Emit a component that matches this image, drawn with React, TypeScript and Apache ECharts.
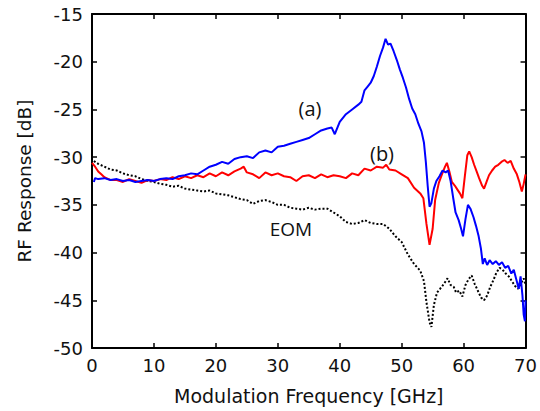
import React, { useEffect, useRef } from "react";
import * as echarts from "echarts";

const xTicks = { min: 0, max: 70, interval: 10 };
const yTicks = { min: -50, max: -15, interval: 5 };

const blueF = [0.3, 0.5, 1, 2, 3, 4, 5, 6, 7, 8, 9, 10, 11, 12, 13, 14, 15, 16, 17, 18, 19, 20, 21, 22, 23, 24, 25, 26, 27, 28, 29, 30, 31, 32, 33, 34, 35, 36, 37, 38, 38.7, 39.2, 40, 41, 42, 43, 43.5, 44, 44.5, 45, 45.5, 46, 46.5, 47, 47.4, 47.8, 48.2, 48.7, 49.2, 49.7, 50.2, 50.7, 51.2, 51.7, 52.2, 52.7, 53.2, 53.6, 53.9, 54.2, 54.5, 54.8, 55.2, 55.6, 56.1, 56.6, 57.1, 57.5, 57.9, 58.3, 58.7, 59.2, 59.6, 59.9, 60.3, 60.7, 61.1, 61.6, 62.0, 62.4, 62.8, 63.1, 63.4, 63.8, 64.2, 64.7, 65.2, 65.7, 66.2, 66.7, 67.2, 67.7, 68.1, 68.5, 68.9, 69.2, 69.5, 69.7, 69.9, 70];
const blueV = [-32.6, -32.2, -32.3, -32.2, -32.4, -32.3, -32.5, -32.4, -32.6, -32.5, -32.4, -32.5, -32.3, -32.2, -32.3, -32.0, -31.9, -31.7, -31.8, -31.4, -31.0, -30.8, -30.5, -30.7, -30.2, -30.0, -29.9, -30.1, -29.5, -29.3, -29.5, -28.9, -28.8, -28.6, -28.4, -28.2, -28.0, -27.6, -27.2, -27.0, -26.9, -27.6, -26.3, -25.5, -25.0, -24.5, -24.2, -23.0, -22.6, -22.2, -21.5, -20.5, -19.4, -18.5, -17.6, -18.2, -18.1, -18.9, -19.8, -20.8, -21.7, -22.7, -23.9, -24.9, -25.5, -26.5, -27.3, -28.5, -30.5, -33.0, -35.2, -34.8, -33.3, -32.5, -32.0, -31.4, -31.6, -31.4, -32.5, -34.2, -35.8, -36.6, -37.5, -38.3, -36.5, -35.0, -35.4, -36.3, -37.2, -38.2, -39.6, -41.2, -40.6, -41.3, -40.8, -41.2, -40.9, -41.3, -41.0, -41.6, -41.4, -42.2, -41.8, -42.8, -43.8, -42.5, -44.5, -46.5, -47.2, -45.0];

const redF = [0, 0.5, 1, 1.5, 2, 3, 4, 5, 6, 7, 8, 9, 10, 11, 12, 13, 14, 15, 16, 17, 18, 19, 20, 21, 22, 23, 24, 24.5, 25, 26, 27, 28, 29, 30, 31, 32, 33, 34, 35, 36, 37, 38, 39, 40, 41, 42, 43, 44, 45, 46, 47, 47.5, 48, 49, 50, 51, 52, 53, 53.5, 54, 54.5, 55, 55.4, 56, 56.5, 57, 57.3, 57.7, 58.1, 58.6, 59, 59.4, 59.8, 60.2, 60.6, 60.9, 61.3, 61.7, 62.1, 62.5, 63, 63.3, 63.7, 64.1, 64.6, 65.1, 65.6, 66.1, 66.6, 67.1, 67.6, 68.1, 68.6, 69, 69.4, 69.7, 70];
const redV = [-30.6, -31.0, -31.5, -31.8, -32.1, -32.4, -32.4, -32.6, -32.3, -32.5, -32.7, -32.4, -32.5, -32.3, -32.4, -32.1, -32.3, -32.0, -32.2, -31.9, -32.1, -31.7, -32.0, -31.6, -31.9, -31.5, -31.2, -31.0, -31.6, -31.8, -32.2, -31.6, -31.9, -31.7, -32.0, -32.1, -32.5, -32.0, -31.9, -32.2, -31.8, -32.1, -31.9, -32.0, -32.2, -31.7, -31.9, -31.2, -31.4, -31.0, -31.1, -30.8, -31.3, -31.4, -31.8, -32.2, -33.2, -33.8, -34.3, -37.0, -39.2, -37.5, -34.5, -32.7, -31.8, -31.0, -30.6, -31.5, -32.6, -33.0, -33.4, -33.8, -34.3, -32.0, -29.8, -29.4, -30.0, -30.8, -31.5, -32.2, -33.0, -33.3, -32.6, -31.9, -31.4, -31.0, -30.8, -30.5, -30.3, -30.6, -30.4, -31.2, -31.8, -32.6, -33.6, -32.8, -31.8];

const eomF = [0.3, 1, 2, 3, 4, 5, 6, 7, 8, 9, 10, 11, 12, 13, 14, 15, 16, 17, 18, 19, 20, 21, 22, 23, 24, 25, 26, 27, 28, 29, 30, 31, 32, 33, 34, 35, 36, 37, 38, 39, 40, 41, 42, 43, 44, 45, 46, 47, 48, 49, 50, 51, 52, 53, 53.6, 54, 54.5, 54.8, 55.2, 55.7, 56.2, 56.8, 57.4, 57.9, 58.4, 58.8, 59.3, 59.8, 60.3, 60.8, 61.3, 61.8, 62.3, 62.8, 63.3, 63.8, 64.3, 64.8, 65.3, 65.8, 66.3, 66.8, 67.3, 67.8, 68.3, 68.8, 69.3, 69.7, 70];
const eomV = [-30.4, -30.7, -31.0, -31.3, -31.4, -31.7, -31.9, -32.0, -32.3, -32.5, -32.6, -32.8, -32.9, -33.1, -33.0, -33.3, -33.4, -33.5, -33.6, -33.5, -33.8, -33.9, -34.0, -34.2, -34.4, -34.5, -34.9, -34.6, -34.5, -34.7, -35.0, -35.0, -35.3, -35.4, -35.5, -35.3, -35.5, -35.4, -35.4, -35.8, -36.2, -36.8, -37.0, -36.9, -36.6, -36.9, -37.0, -37.0, -37.5, -38.3, -38.9, -40.2, -41.2, -41.9, -43.0, -45.2, -47.3, -47.8, -45.5, -44.2, -43.8, -43.3, -42.7, -43.4, -43.6, -44.2, -44.0, -44.6, -43.4, -42.8, -42.4, -43.3, -44.0, -44.7, -45.0, -44.5, -43.6, -42.9, -42.1, -41.6, -41.8, -42.2, -42.5, -43.0, -43.5, -43.8, -43.2, -42.7, -43.4];

const xTitle = "Modulation Frequency [GHz]";
const yTitle = "RF Response [dB]";
const curveLabels = ["(a)", "(b)", "EOM"];

const zip = (f: number[], v: number[]) => f.map((x, i) => [x, v[i]]);

export default function App() {
  const ref = useRef<HTMLDivElement>(null);
  useEffect(() => {
    if (!ref.current) return;
    const chart = echarts.init(ref.current, undefined, { renderer: "svg" });
    const font = "DejaVu Sans, sans-serif";
    const lblFont = "Open Sans, Noto Sans, sans-serif";
    const axisCommon = {
      axisLine: { show: true, onZero: false, lineStyle: { color: "#000", width: 2 } },
      axisTick: { show: true, inside: true, length: 5, lineStyle: { color: "#000", width: 1.5 } },
      splitLine: { show: false },
    };
    chart.setOption({
      animation: false,
      backgroundColor: "#fff",
      grid: { left: 92, top: 14, right: 13, bottom: 63, containLabel: false },
      xAxis: [
        {
          type: "value", ...xTicks, position: "bottom", ...axisCommon,
          axisLabel: { color: "#111", fontSize: 18, fontFamily: font, margin: 8 },
          name: xTitle, nameLocation: "middle", nameGap: 38,
          nameTextStyle: { color: "#111", fontSize: 19, fontFamily: font },
        },
        { type: "value", ...xTicks, position: "top", ...axisCommon, axisLabel: { show: false } },
      ],
      yAxis: [
        {
          type: "value", ...yTicks, position: "left", ...axisCommon,
          axisLabel: { color: "#111", fontSize: 18, fontFamily: font, margin: 9 },
          name: yTitle, nameLocation: "middle", nameGap: 58, nameRotate: 90,
          nameTextStyle: { color: "#111", fontSize: 18.5, fontFamily: font },
        },
        { type: "value", ...yTicks, position: "right", ...axisCommon, axisLabel: { show: false } },
      ],
      series: [
        {
          type: "line", data: zip(eomF, eomV), showSymbol: false, symbol: "none",
          lineStyle: { color: "#000", width: 2, type: [2, 2] }, z: 3,
        },
        {
          type: "line", data: zip(redF, redV), showSymbol: false, symbol: "none",
          lineStyle: { color: "#ff0000", width: 2 }, z: 4,
        },
        {
          type: "line", data: zip(blueF, blueV), showSymbol: false, symbol: "none",
          lineStyle: { color: "#0000ff", width: 2 }, z: 5,
        },
      ],
      graphic: [
        { type: "text", x: 310, y: 108, style: { text: curveLabels[0], fontSize: 20, fontFamily: lblFont, fill: "#111", align: "center", verticalAlign: "middle" } },
        { type: "text", x: 382, y: 153, style: { text: curveLabels[1], fontSize: 20, fontFamily: lblFont, fill: "#111", align: "center", verticalAlign: "middle" } },
        { type: "text", x: 291, y: 229, style: { text: curveLabels[2], fontSize: 19, fontFamily: lblFont, fill: "#111", align: "center", verticalAlign: "middle" } },
      ],
    });
    return () => chart.dispose();
  }, []);
  return <div ref={ref} style={{ width: 540, height: 411, position: "absolute", left: 0, top: 0 }} />;
}
